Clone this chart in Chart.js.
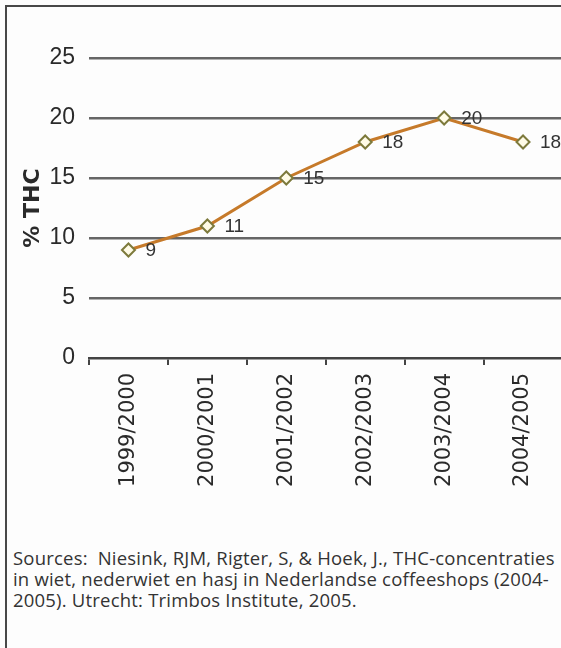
<!DOCTYPE html>
<html>
<head>
<meta charset="utf-8">
<script src="https://cdn.jsdelivr.net/npm/chart.js@4.4.1/dist/chart.umd.min.js"></script>
<style>
    html, body { margin: 0; padding: 0; background: #fdfdfd; }
    body { width: 561px; height: 648px; position: relative; overflow: hidden; }
    #frame {
        position: absolute; left: 5px; top: 5px; width: 600px; height: 700px;
        border-top: 2px solid #484848; border-left: 2px solid #484848;
    }
    #chart-wrap { position: absolute; left: 0; top: 0; }
    #source {
        position: absolute; left: 13px; top: 547px;
        font-family: 'Open Sans', 'Noto Sans', sans-serif; font-size: 18.5px;
        line-height: 21px; color: #333; white-space: nowrap; letter-spacing: 0.2px;
    }
</style>
</head>
<body>
<div id="frame"></div>
<div id="chart-wrap"><canvas id="thc-chart" width="571" height="530"></canvas></div>
<div id="source">Sources:&nbsp; Niesink, RJM, Rigter, S, &amp; Hoek, J., THC-concentraties<br>in wiet, nederwiet en hasj in Nederlandse coffeeshops (2004-<br>2005). Utrecht: Trimbos Institute, 2005.</div>
<script>
// Chart data
const seasons = ['1999/2000', '2000/2001', '2001/2002', '2002/2003', '2003/2004', '2004/2005'];
const thcValues = [9, 11, 15, 18, 20, 18];
const yTicks = [0, 5, 10, 15, 20, 25];

// Draw the value next to each point
const valueLabels = {
    id: 'valueLabels',
    afterDatasetsDraw(chart) {
        const ctx = chart.ctx;
        const meta = chart.getDatasetMeta(0);
        ctx.save();
        ctx.font = "19px 'Liberation Sans', sans-serif";
        ctx.fillStyle = '#333';
        ctx.textAlign = 'left';
        ctx.textBaseline = 'middle';
        meta.data.forEach((pt, i) => {
            ctx.fillText(String(thcValues[i]), pt.x + 17, pt.y + 1);
        });
        ctx.restore();
    }
};

const ctx = document.getElementById('thc-chart').getContext('2d');
new Chart(ctx, {
    type: 'line',
    data: {
        labels: seasons,
        datasets: [{
            data: thcValues,
            borderColor: '#c67a2a',
            borderWidth: 3,
            pointStyle: 'rectRot',
            pointRadius: 6.5,
            pointBorderWidth: 2,
            pointBorderColor: '#7d7a3c',
            pointBackgroundColor: '#fffbe6',
            tension: 0
        }]
    },
    options: {
        responsive: false,
        animation: false,
        layout: { padding: { top: 58, right: 0, left: 0, bottom: 0 } },
        plugins: {
            legend: { display: false },
            tooltip: { enabled: false }
        },
        scales: {
            x: {
                offset: true,
                afterFit: (scale) => {
                    scale.height = 172;
                },
                grid: {
                    offset: true,
                    drawOnChartArea: false,
                    drawTicks: true,
                    tickLength: 7,
                    color: '#444',
                    lineWidth: 2
                },
                border: { display: true, color: '#444', width: 2.5 },
                ticks: {
                    autoSkip: false,
                    minRotation: 90,
                    maxRotation: 90,
                    padding: 8,
                    color: '#2a2a2a',
                    font: { family: "'DejaVu Sans', sans-serif", size: 21 }
                }
            },
            y: {
                min: 0,
                max: 25,
                afterFit: (scale) => { scale.width = 89; },
                afterBuildTicks: (scale) => {
                    scale.ticks = yTicks.map(v => ({ value: v }));
                },
                border: { display: false },
                grid: {
                    drawTicks: false,
                    color: (c) => c.tick && c.tick.value === 0 ? 'rgba(0,0,0,0)' : '#666',
                    lineWidth: 2.5
                },
                ticks: {
                    padding: 14,
                    color: '#2a2a2a',
                    font: { family: "'Liberation Sans', sans-serif", size: 23 }
                },
                title: {
                    display: true,
                    text: '% THC',
                    color: '#2a2a2a',
                    padding: { top: 20, bottom: 0 },
                    font: { family: "'DejaVu Sans', sans-serif", size: 22, weight: 'bold' }
                }
            }
        }
    },
    plugins: [valueLabels]
});
</script>
</body>
</html>
